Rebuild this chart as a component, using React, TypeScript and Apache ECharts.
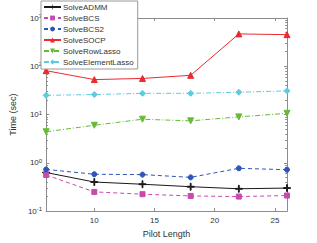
import React, { useEffect, useRef } from "react";
import * as echarts from "echarts";

const pilotLength = [6, 10, 14, 18, 22, 26];
const seriesNames = ["SolveADMM", "SolveBCS", "SolveBCS2", "SolveSOCP", "SolveRowLasso", "SolveElementLasso"];
const admm = [0.63, 0.4, 0.36, 0.32, 0.29, 0.3];
const bcs = [0.56, 0.25, 0.224, 0.206, 0.2, 0.21];
const bcs2 = [0.73, 0.58, 0.57, 0.5, 0.77, 0.72];
const socp = [81, 53, 56, 65, 468, 452];
const rowLasso = [4.4, 6.0, 8.0, 7.4, 8.95, 10.6];
const elementLasso = [25, 26, 27.5, 27.5, 29, 31];
const xTicks = [10, 15, 20, 25];
const yMajor = [0.1, 1, 10, 100, 1000];

const minorTicks: number[] = [];
for (let d = -1; d < 3; d++) {
  for (let k = 1; k <= 10; k++) minorTicks.push(+(k * Math.pow(10, d)).toPrecision(3));
}

const plus = "path://M-0.12,-1H0.12V-0.12H1V0.12H0.12V1H-0.12V0.12H-1V-0.12H-0.12Z";
const downTri = "path://M-1,-0.9L1,-0.9L0,0.9Z";

export default function App() {
  const ref = useRef<HTMLDivElement>(null);
  useEffect(() => {
    const chart = echarts.init(ref.current!, null, { renderer: "svg" });
    const font = "Liberation Sans, Arial, sans-serif";
    const mk = (name: string, data: number[], color: string, type: any, symbol: string, size: number, width = 1) => ({
      name,
      type: "line",
      data: data.map((v, i) => [pilotLength[i], v]),
      symbol,
      symbolSize: size,
      lineStyle: { color, type, width },
      itemStyle: { color, borderColor: color },
      z: 3,
    });
    const common = {
      type: "value",
      min: 6,
      max: 26,
      axisLine: { lineStyle: { color: "#8c8c8c", width: 1 } },
      splitLine: { show: false },
    };
    const logCommon = {
      type: "log",
      logBase: 10,
      min: 0.1,
      max: 1000,
      axisLine: { lineStyle: { color: "#8c8c8c", width: 1 } },
      splitLine: { show: false },
    };
    chart.setOption({
      animation: false,
      grid: { left: 41, right: 30, top: 18, bottom: 30 },
      legend: {
        orient: "vertical",
        left: 41,
        top: 1,
        itemWidth: 17,
        itemHeight: 6,
        itemGap: 3,
        padding: [2, 4, 3, 2],
        backgroundColor: "#fff",
        borderColor: "#9a9a9a",
        borderWidth: 1,
        textStyle: { fontSize: 8, fontFamily: font, color: "#333", padding: [0, 0, 0, -3] },
        data: seriesNames,
      },
      xAxis: [
        {
          ...common,
          position: "bottom",
          name: "Pilot Length",
          nameLocation: "middle",
          nameGap: 17,
          nameTextStyle: { fontSize: 9, fontFamily: font, color: "#333" },
          axisTick: { inside: true, length: 3, customValues: xTicks, lineStyle: { color: "#8c8c8c" } },
          axisLabel: { customValues: xTicks, fontSize: 8, fontFamily: font, color: "#333", margin: 5 },
        },
        {
          ...common,
          position: "top",
          axisTick: { inside: true, length: 3, customValues: xTicks, lineStyle: { color: "#8c8c8c" } },
          axisLabel: { show: false },
        },
      ],
      yAxis: [
        {
          ...logCommon,
          position: "left",
          name: "Time (sec)",
          nameLocation: "middle",
          nameGap: 23,
          nameTextStyle: { fontSize: 9, fontFamily: font, color: "#333" },
          axisTick: { inside: true, length: 3, customValues: yMajor, lineStyle: { color: "#8c8c8c" } },
          axisLabel: {
            customValues: yMajor,
            fontSize: 8,
            fontFamily: font,
            color: "#333",
            margin: 4,
            formatter: (v: number) => `10{s|${Math.round(Math.log10(v))}}`,
            rich: { s: { fontSize: 6, verticalAlign: "top", padding: [0, 0, 4, 0], fontFamily: font, color: "#333" } },
          },
        },
        {
          ...logCommon,
          position: "right",
          axisTick: { inside: true, length: 3, customValues: yMajor, lineStyle: { color: "#8c8c8c" } },
          axisLabel: { show: false },
        },
        {
          ...logCommon,
          position: "left",
          axisLine: { show: false },
          axisTick: { inside: true, length: 1.8, customValues: minorTicks, lineStyle: { color: "#8c8c8c" } },
          axisLabel: { show: false },
        },
        {
          ...logCommon,
          position: "right",
          axisLine: { show: false },
          axisTick: { inside: true, length: 1.8, customValues: minorTicks, lineStyle: { color: "#8c8c8c" } },
          axisLabel: { show: false },
        },
      ],
      series: [
        mk(seriesNames[0], admm, "#1a1a1a", "solid", plus, 7),
        mk(seriesNames[1], bcs, "#c84aae", [4, 3], "rect", 5),
        mk(seriesNames[2], bcs2, "#2f55b8", [4, 3], "circle", 5),
        mk(seriesNames[3], socp, "#ea2a30", "solid", "triangle", 6),
        mk(seriesNames[4], rowLasso, "#66bb33", [5, 2, 1, 2], downTri, 6),
        mk(seriesNames[5], elementLasso, "#5ecbe0", [5, 2, 1, 2], "diamond", 6),
      ],
    });
    return () => chart.dispose();
  }, []);
  return <div ref={ref} style={{ position: "absolute", left: 0, top: 0, width: 317, height: 243 }} />;
}
